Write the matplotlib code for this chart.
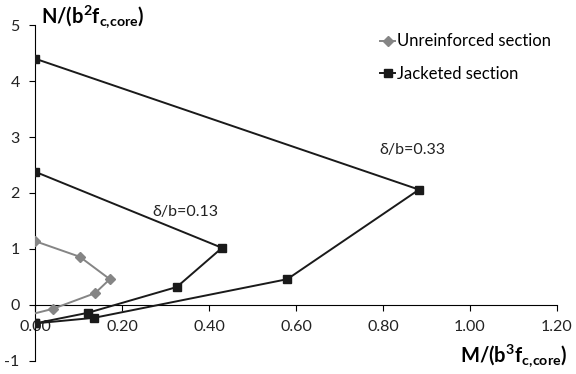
import matplotlib
matplotlib.use("Agg")
import matplotlib.pyplot as plt

# unreinforced section interaction curve (M, N)
unr_m = [0.0, 0.103, 0.172, 0.138, 0.041, 0.0]
unr_n = [1.14, 0.86, 0.46, 0.21, -0.07, -0.15]

# jacketed section, two drift levels
jac13_m = [0.0, 0.43, 0.326, 0.122, 0.0]
jac13_n = [2.38, 1.02, 0.32, -0.14, -0.33]
jac33_m = [0.0, 0.883, 0.58, 0.136, 0.0]
jac33_n = [4.4, 2.06, 0.46, -0.23, -0.33]

xticks = [0.0, 0.2, 0.4, 0.6, 0.8, 1.0, 1.2]
yticks = [-1, 0, 1, 2, 3, 4, 5]

plt.rcParams["font.family"] = ["Lato", "DejaVu Sans"]
plt.rcParams["mathtext.fontset"] = "custom"
plt.rcParams["mathtext.rm"] = "Lato"
plt.rcParams["mathtext.bf"] = "Lato:bold"
plt.rcParams["mathtext.it"] = "Lato:italic"

fig = plt.figure(figsize=(5.76, 3.74), dpi=100)
ax = fig.add_axes([0.0608, 0.035, 0.906, 0.898])

GRAY = "#858585"
BLACK = "#1a1a1a"

ax.plot(unr_m, unr_n, color=GRAY, lw=1.4, marker="D", ms=5.5,
        markevery=[0, 1, 2, 3, 4], label="Unreinforced section", zorder=3)
ax.plot(jac13_m, jac13_n, color=BLACK, lw=1.4, marker="s", ms=6,
        label="Jacketed section", zorder=4)
ax.plot(jac33_m, jac33_n, color=BLACK, lw=1.4, marker="s", ms=6, zorder=4)

ax.set_xlim(0, 1.2)
ax.set_ylim(-1, 5)
ax.set_xticks(xticks)
ax.set_xticklabels([f"{v:.2f}" for v in xticks])
ax.set_yticks(yticks)
ax.set_yticklabels([str(v) for v in yticks])

for s in ("top", "right"):
    ax.spines[s].set_visible(False)
ax.spines["bottom"].set_position(("data", 0))
ax.tick_params(axis="both", direction="out", length=4, width=0.8,
               labelsize=11.5, colors="black", labelcolor="#222222")
ax.tick_params(axis="x", pad=7)
ax.tick_params(axis="y", pad=7)
for lbl in ax.get_xticklabels():
    lbl.set_zorder(1)

ax.text(0.867, 2.77, "δ/b=0.33", fontsize=11.5, ha="center", va="center",
        color="#222222")
ax.text(0.345, 1.66, "δ/b=0.13", fontsize=11.5, ha="center", va="center",
        color="#222222")

fig.text(0.072, 0.955, r"$\mathbf{N/(b^2f_{c,\!core})}$", fontsize=14.5,
         ha="left", va="center")
fig.text(0.984, 0.05, r"$\mathbf{M/(b^3f_{c,\!core})}$", fontsize=14.5,
         ha="right", va="center")

ax.legend(loc="upper left", bbox_to_anchor=(0.633, 1.02), frameon=False,
          fontsize=12, handlelength=0.9, handletextpad=0.1,
          labelspacing=1.0, markerscale=0.9)

fig.savefig("out.png", dpi=100)
